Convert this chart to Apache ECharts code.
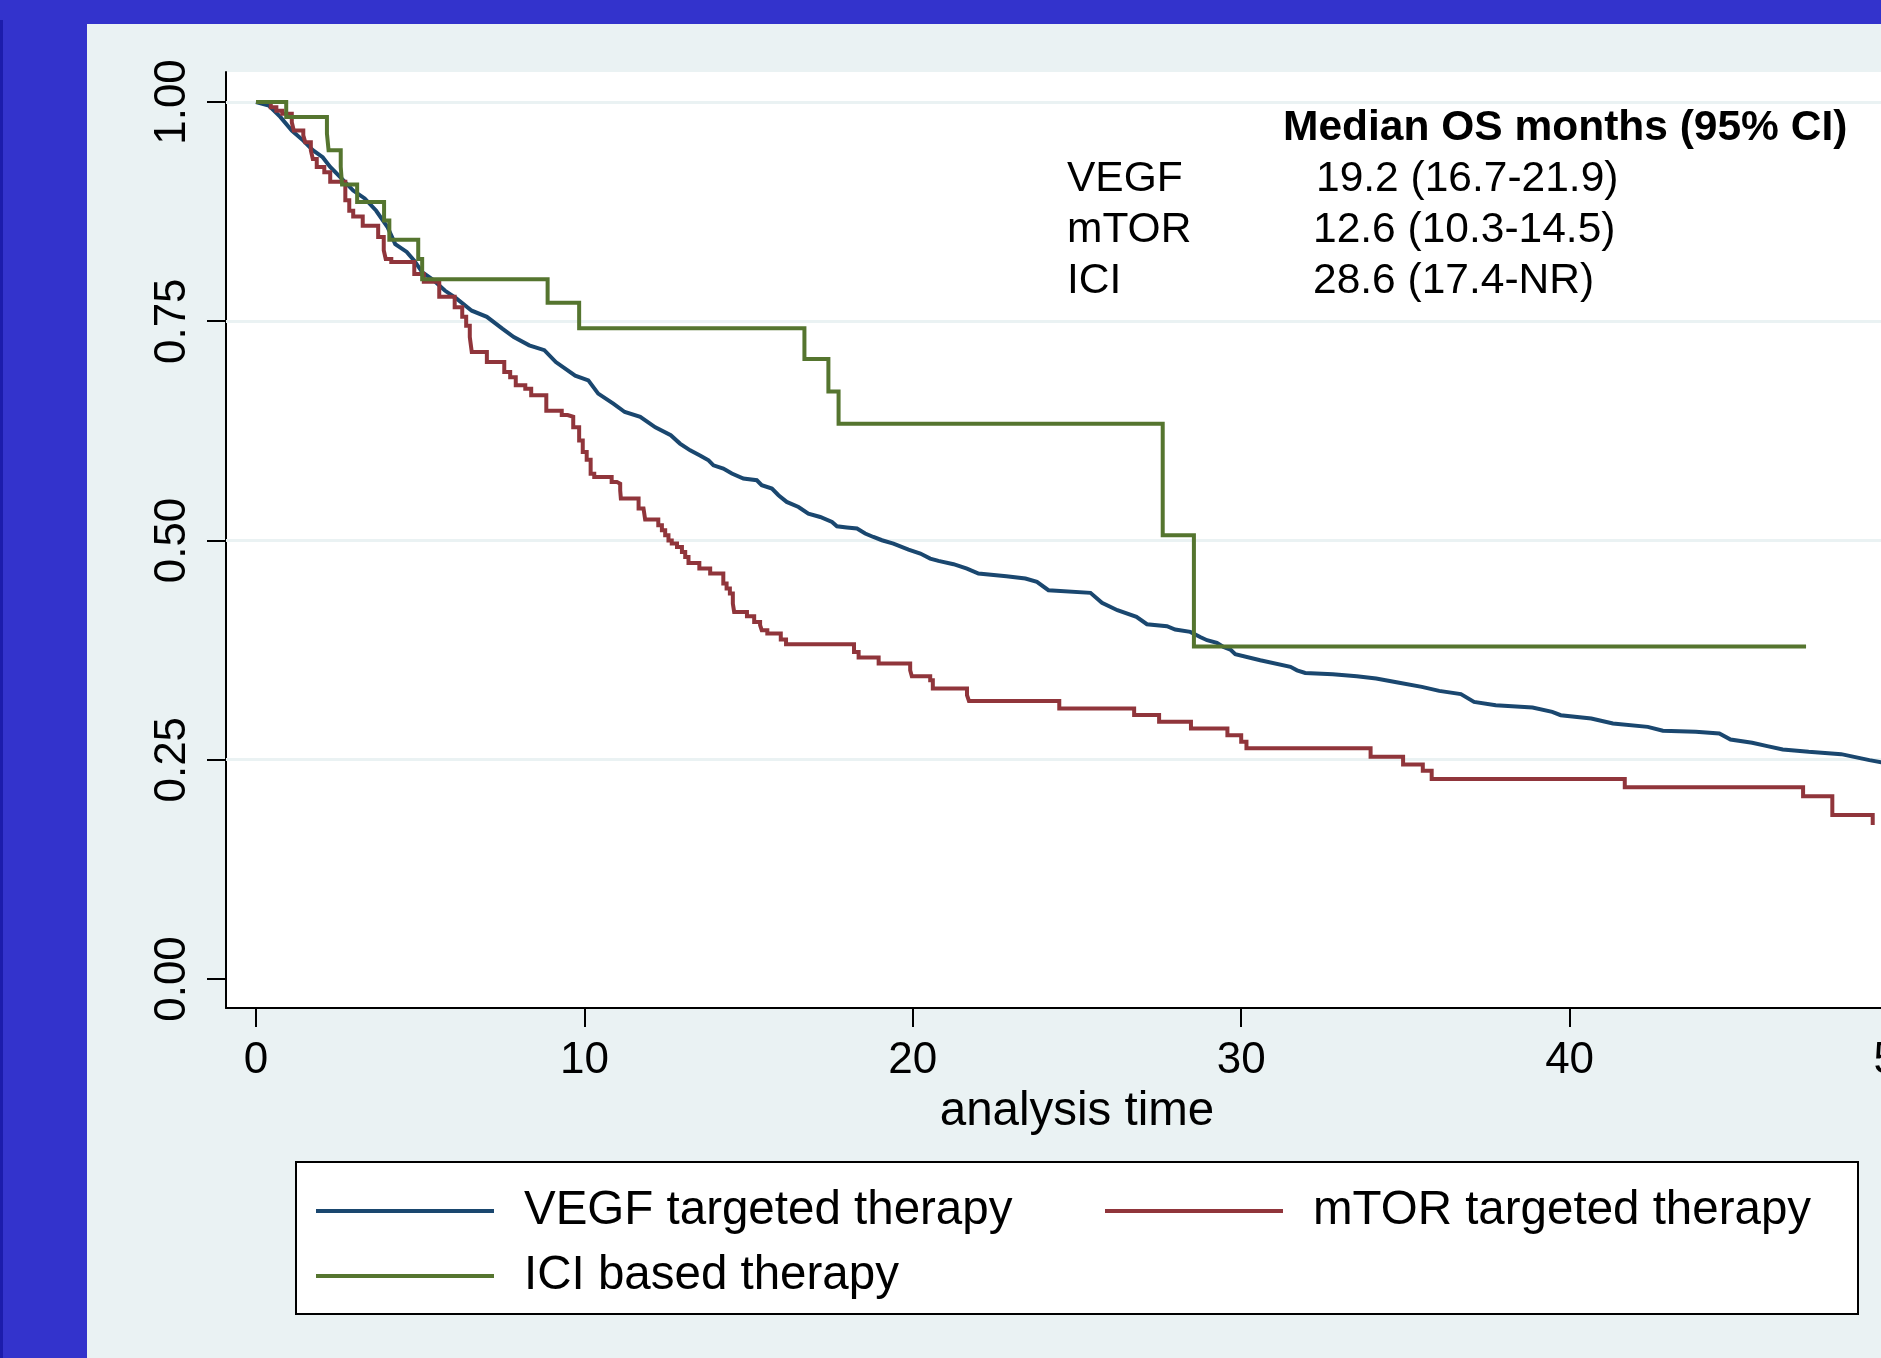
<!DOCTYPE html>
<html>
<head>
<meta charset="utf-8">
<style>
html,body{margin:0;padding:0;background:#EAF2F3;}
#chart{width:1881px;height:1358px;}
</style>
<script src="https://cdn.jsdelivr.net/npm/echarts@6/dist/echarts.min.js"></script>
</head>
<body>
<div id="chart"></div>
<script>
// ---------- data ----------
const xTicks = [0, 10, 20, 30, 40, 50];
const yTicks = [0, 0.25, 0.5, 0.75, 1];
const yGridValues = [0.25, 0.5, 0.75, 1];
const xTitle = 'analysis time';

const seriesNames = ['VEGF targeted therapy', 'mTOR targeted therapy', 'ICI based therapy'];

// Kaplan-Meier points [months, survival]
const vegfPoints = [[0,1],[0.39,0.996],[0.74,0.983],[1.09,0.9675],[1.44,0.956],[1.73,0.945],[2.03,0.937],[2.26,0.926],[2.61,0.9125],[2.96,0.899],[3.31,0.890],[3.66,0.876],[4.01,0.857],[4.24,0.838],[4.59,0.829],[4.82,0.819],[5.06,0.806],[5.40,0.797],[5.75,0.785],[6.10,0.776],[6.57,0.762],[7.03,0.755],[7.50,0.7415],[7.85,0.732],[8.32,0.7225],[8.78,0.717],[9.13,0.7035],[9.72,0.688],[10.12,0.6826],[10.42,0.6675],[10.88,0.656],[11.23,0.6465],[11.70,0.641],[12.16,0.629],[12.63,0.620],[12.91,0.6105],[13.22,0.6028],[13.52,0.597],[13.78,0.5915],[13.93,0.5857],[14.23,0.582],[14.49,0.5763],[14.84,0.5706],[15.25,0.5687],[15.40,0.563],[15.71,0.5592],[15.91,0.5516],[16.16,0.544],[16.52,0.5382],[16.82,0.5307],[17.18,0.5268],[17.54,0.5211],[17.69,0.5162],[17.99,0.5148],[18.30,0.5136],[18.55,0.508],[18.80,0.504],[19.06,0.5003],[19.41,0.4965],[19.87,0.4897],[20.23,0.4851],[20.53,0.4794],[20.78,0.4767],[21.24,0.473],[21.65,0.468],[22.0,0.4623],[22.85,0.4593],[23.43,0.4566],[23.78,0.4528],[24.13,0.4433],[25.41,0.4403],[25.76,0.4289],[26.23,0.4205],[26.81,0.4129],[27.13,0.4045],[27.74,0.4023],[27.99,0.3985],[28.45,0.3958],[28.75,0.39],[28.96,0.3863],[29.26,0.3833],[29.46,0.3787],[29.67,0.3757],[29.82,0.3704],[30.58,0.3635],[31.50,0.356],[31.70,0.352],[31.95,0.349],[32.79,0.3476],[33.52,0.3453],[34.11,0.3427],[34.77,0.3381],[35.50,0.3331],[36.03,0.3285],[36.69,0.3248],[37.09,0.316],[37.75,0.3122],[38.87,0.3096],[39.47,0.3046],[39.73,0.3008],[40.66,0.2971],[41.32,0.2914],[42.38,0.2875],[42.84,0.283],[43.84,0.2818],[44.56,0.280],[44.90,0.273],[45.56,0.2693],[46.02,0.2655],[46.49,0.2618],[47.28,0.259],[48.27,0.2564],[49.13,0.2496],[49.7,0.2458]];

const mtorPoints = [[0,1],[0.45,0.994],[0.62,0.990],[0.80,0.9865],[1.09,0.977],[1.15,0.9675],[1.44,0.962],[1.50,0.954],[1.67,0.945],[1.73,0.935],[1.85,0.926],[2.08,0.920],[2.26,0.909],[2.72,0.888],[2.84,0.876],[2.96,0.8695],[3.25,0.859],[3.72,0.846],[3.89,0.831],[3.95,0.821],[4.12,0.8175],[4.82,0.804],[5.11,0.795],[5.58,0.778],[6.05,0.766],[6.28,0.755],[6.40,0.745],[6.51,0.732],[6.57,0.715],[7.03,0.7035],[7.56,0.692],[7.74,0.686],[7.91,0.677],[8.20,0.673],[8.38,0.6655],[8.84,0.648],[9.31,0.643],[9.49,0.641],[9.66,0.629],[9.84,0.614],[9.95,0.601],[10.07,0.592],[10.19,0.576],[10.30,0.5725],[10.83,0.5667],[10.99,0.5648],[11.09,0.557],[11.11,0.548],[11.65,0.5364],[11.80,0.5345],[11.85,0.524],[12.25,0.5174],[12.36,0.5117],[12.46,0.506],[12.56,0.500],[12.66,0.4965],[12.82,0.4927],[12.97,0.487],[13.07,0.4813],[13.17,0.4744],[13.50,0.468],[13.83,0.4623],[14.23,0.451],[14.33,0.4452],[14.43,0.4395],[14.52,0.428],[14.56,0.4186],[14.95,0.4137],[15.17,0.4072],[15.35,0.4034],[15.40,0.3977],[15.57,0.394],[15.98,0.387],[16.14,0.3818],[18.21,0.373],[18.35,0.3666],[18.96,0.3598],[19.92,0.352],[19.97,0.3453],[20.53,0.3407],[20.61,0.3313],[21.65,0.3236],[21.71,0.317],[24.46,0.3085],[26.74,0.301],[27.50,0.2932],[28.47,0.2857],[29.58,0.278],[30.0,0.2704],[30.16,0.263],[33.94,0.2533],[34.93,0.2447],[35.53,0.2374],[35.80,0.228],[41.68,0.2185],[47.11,0.2085],[48.0,0.187],[49.23,0.1755]];

const iciPoints = [[0,1],[0.92,0.983],[2.16,0.964],[2.21,0.945],[2.58,0.926],[2.62,0.906],[3.08,0.886],[3.90,0.865],[4.06,0.843],[4.94,0.821],[5.06,0.798],[8.88,0.771],[9.84,0.742],[16.70,0.707],[17.43,0.670],[17.74,0.633],[27.61,0.506],[28.56,0.379],[47.2,0.379]];

const medianHeader = 'Median OS months (95% CI)';
const medianLabels = ['VEGF', 'mTOR', 'ICI'];
const medianValues = ['19.2 (16.7-21.9)', '12.6 (10.3-14.5)', '28.6 (17.4-NR)'];

// ---------- styles ----------
const FONT = '"Liberation Sans", Arial, Helvetica, sans-serif';
const colors = ['#1a476f', '#90353b', '#55752f'];
const LW = 4;

const chart = echarts.init(document.getElementById('chart'), null, {renderer: 'canvas'});

const graphics = [
  {type: 'rect', shape: {x: 0, y: 0, width: 1881, height: 24}, style: {fill: '#3333CC'}, silent: true},
  {type: 'rect', shape: {x: 0, y: 0, width: 87, height: 1358}, style: {fill: '#3333CC'}, silent: true},
  {type: 'rect', shape: {x: 0, y: 20, width: 3, height: 1338}, style: {fill: '#1c1cab'}, silent: true},
  {type: 'rect', shape: {x: 296, y: 1162, width: 1562, height: 152}, style: {fill: '#ffffff', stroke: '#000000', lineWidth: 2}, silent: true},
  {type: 'text', style: {x: 1283, y: 128, text: medianHeader, font: 'bold 42.5px ' + FONT, fill: '#000', verticalAlign: 'middle', align: 'left'}, silent: true}
];
const rowY = [179, 230, 281];
const valX = [1316, 1313, 1313];
medianLabels.forEach((lab, i) => {
  graphics.push({type: 'text', style: {x: 1067, y: rowY[i], text: lab, font: '42.5px ' + FONT, fill: '#000', verticalAlign: 'middle', align: 'left'}, silent: true});
  graphics.push({type: 'text', style: {x: valX[i], y: rowY[i], text: medianValues[i], font: '42.5px ' + FONT, fill: '#000', verticalAlign: 'middle', align: 'left'}, silent: true});
});

const legendBase = {
  orient: 'horizontal', padding: 0, itemWidth: 178, itemHeight: 4, selectedMode: false,
  icon: 'rect',
  textStyle: {fontFamily: FONT, fontSize: 47.5, color: '#000', lineHeight: 56, padding: [0, 0, 0, 25]},
  z: 10
};

const lineSeries = (name, pts, color, step) => ({
  name: name, type: 'line', step: step, data: pts,
  showSymbol: false, symbol: 'none', z: 3,
  lineStyle: {color: color, width: LW, cap: 'butt', join: 'miter'},
  itemStyle: {color: color},
  emphasis: {disabled: true},
  animation: false
});

const option = {
  backgroundColor: '#EAF2F3',
  animation: false,
  textStyle: {fontFamily: FONT},
  graphic: graphics,
  legend: [
    Object.assign({}, legendBase, {data: [seriesNames[0]], left: 316, top: 1183}),
    Object.assign({}, legendBase, {data: [seriesNames[1]], left: 1105, top: 1183}),
    Object.assign({}, legendBase, {data: [seriesNames[2]], left: 316, top: 1248})
  ],
  grid: {
    left: 226, top: 72, width: 1702, height: 936,
    show: true, backgroundColor: '#ffffff', borderWidth: 0,
    containLabel: false, outerBoundsMode: 'none'
  },
  xAxis: {
    type: 'value', min: -0.9135, max: 50.9135,
    name: xTitle, nameLocation: 'middle', nameGap: 80,
    nameTextStyle: {fontFamily: FONT, fontSize: 47.5, color: '#000'},
    axisLine: {show: true, onZero: false, lineStyle: {color: '#000', width: 2}},
    axisTick: {show: true, length: 19, inside: false, customValues: xTicks, lineStyle: {color: '#000', width: 2}},
    axisLabel: {show: true, customValues: xTicks, margin: 31, fontFamily: FONT, fontSize: 44, color: '#000', hideOverlap: false, showMinLabel: true, showMaxLabel: true},
    splitLine: {show: false}
  },
  yAxis: {
    type: 'value', min: -0.03307, max: 1.0342,
    axisLine: {show: true, onZero: false, lineStyle: {color: '#000', width: 2}},
    axisTick: {show: true, length: 19, inside: false, customValues: yTicks, lineStyle: {color: '#000', width: 2}},
    axisLabel: {show: true, customValues: yTicks, rotate: 90, margin: 31, fontFamily: FONT, fontSize: 44, color: '#000',
      formatter: v => Number(v).toFixed(2), showMinLabel: true, showMaxLabel: true},
    splitLine: {show: false}
  },
  series: [
    {
      name: 'gridlines', type: 'line', data: [], z: 1, silent: true,
      markLine: {
        z: 1, silent: true, symbol: ['none', 'none'], label: {show: false}, animation: false,
        lineStyle: {color: '#EAF2F3', width: 3, type: 'solid'},
        emphasis: {disabled: true},
        data: yGridValues.map(v => ({yAxis: v}))
      }
    },
    lineSeries(seriesNames[0], vegfPoints, colors[0], false),
    lineSeries(seriesNames[1], mtorPoints, colors[1], 'end'),
    lineSeries(seriesNames[2], iciPoints, colors[2], 'end')
  ]
};
chart.setOption(option);
</script>
</body>
</html>
